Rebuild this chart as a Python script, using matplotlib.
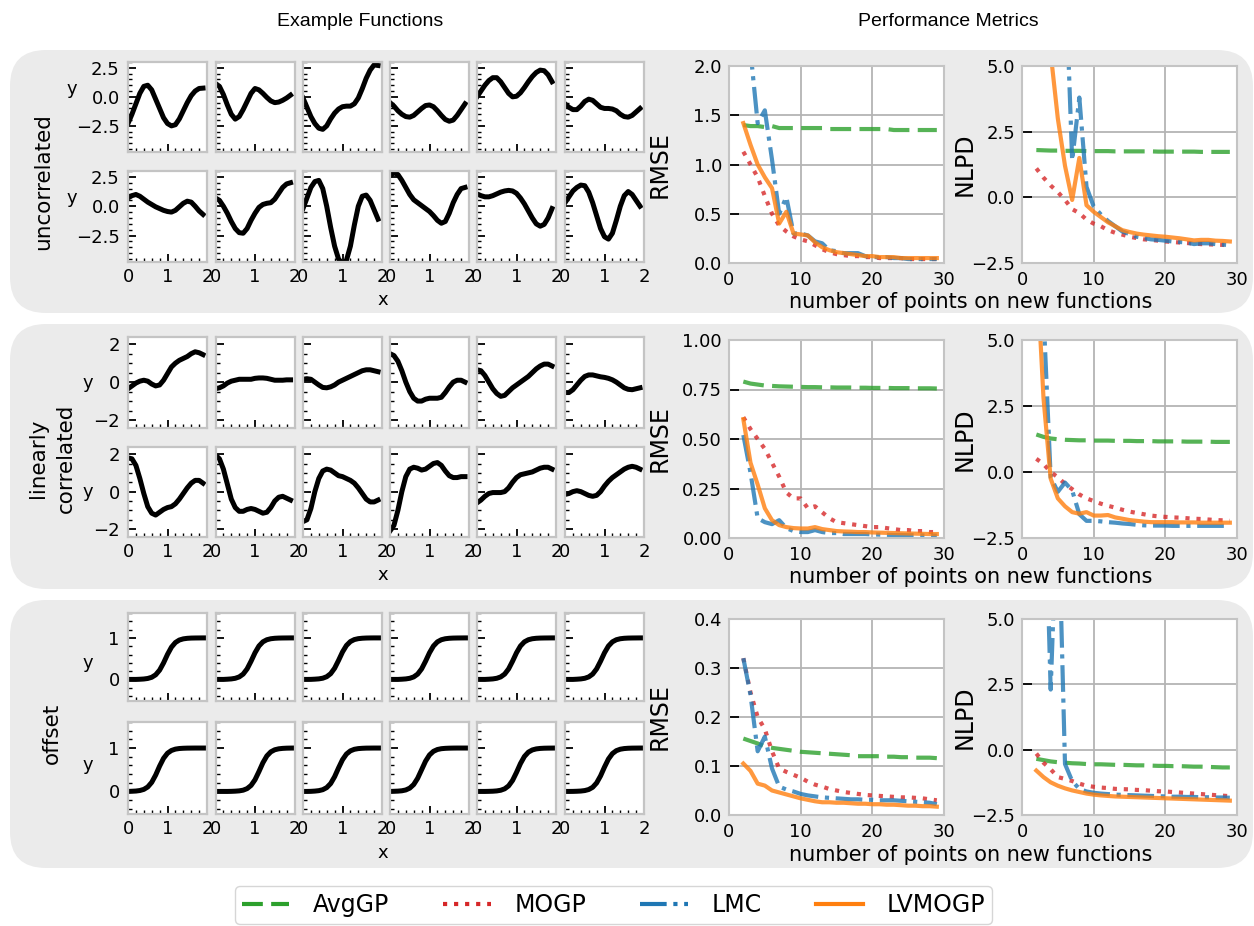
import numpy as np
import matplotlib.pyplot as plt
import matplotlib.ticker as mticker
from matplotlib.patches import FancyBboxPatch
from matplotlib.lines import Line2D

plt.rcParams['font.family'] = ['DejaVu Sans']

W, H = 1254, 926   # output size in pixels (dpi 100)

# ---------------- example functions ----------------
x_func = np.arange(20) / 10.0      # 0.0 .. 1.9
x_sig = np.arange(21) / 10.0       # 0.0 .. 2.0

uncorr_top = [
    [-2.3, -1.5, -0.6, 0.3, 0.9, 1.0, 0.6, -0.2, -1.0, -1.8, -2.3, -2.5, -2.4, -1.9, -1.2, -0.5, 0.1, 0.5, 0.72, 0.75],
    [1.15, 0.9, 0.2, -0.7, -1.5, -1.92, -1.7, -1.1, -0.4, 0.3, 0.72, 0.6, 0.3, -0.05, -0.35, -0.5, -0.45, -0.3, -0.1, 0.15],
    [-0.1, -0.9, -1.7, -2.3, -2.7, -2.8, -2.5, -1.9, -1.4, -1.05, -0.85, -0.8, -0.8, -0.6, -0.1, 0.7, 1.6, 2.3, 2.75, 2.7],
    [-0.5, -0.8, -1.2, -1.5, -1.7, -1.75, -1.6, -1.3, -1.0, -0.75, -0.7, -0.85, -1.2, -1.6, -1.95, -2.1, -2.0, -1.6, -1.1, -0.6],
    [0.0, 0.5, 1.0, 1.4, 1.65, 1.65, 1.3, 0.8, 0.3, 0.0, 0.05, 0.35, 0.8, 1.3, 1.75, 2.1, 2.3, 2.25, 1.9, 1.3],
    [-0.6, -0.9, -1.1, -1.1, -0.8, -0.4, -0.2, -0.3, -0.6, -0.9, -1.0, -1.0, -1.05, -1.2, -1.5, -1.7, -1.75, -1.6, -1.3, -1.0],
]
uncorr_bot = [
    [0.7, 0.9, 1.0, 0.85, 0.6, 0.35, 0.15, -0.05, -0.2, -0.35, -0.45, -0.5, -0.35, -0.05, 0.25, 0.43, 0.35, 0.0, -0.4, -0.7],
    [0.7, 0.5, 0.0, -0.6, -1.3, -1.9, -2.25, -2.3, -1.9, -1.2, -0.6, -0.1, 0.15, 0.25, 0.3, 0.6, 1.1, 1.6, 1.9, 2.0],
    [-0.2, 0.7, 1.6, 2.1, 2.2, 1.5, 0.0, -1.8, -3.4, -4.5, -4.9, -4.6, -3.4, -1.6, 0.0, 0.85, 0.95, 0.5, -0.3, -1.1],
    [2.6, 2.85, 2.7, 2.2, 1.6, 1.0, 0.55, 0.3, 0.05, -0.2, -0.45, -0.8, -1.2, -1.45, -1.3, -0.6, 0.3, 1.0, 1.5, 1.6],
    [1.05, 0.9, 0.8, 0.8, 0.9, 1.05, 1.2, 1.3, 1.35, 1.3, 1.1, 0.7, 0.2, -0.4, -1.0, -1.5, -1.7, -1.55, -1.0, -0.2],
    [0.3, 0.8, 1.3, 1.6, 1.8, 1.75, 1.2, 0.3, -0.8, -1.9, -2.6, -2.8, -2.3, -1.2, 0.0, 0.9, 1.25, 1.0, 0.5, 0.0],
]
lin_top = [
    [-0.35, -0.2, -0.05, 0.05, 0.1, 0.05, -0.1, -0.2, -0.15, 0.1, 0.45, 0.8, 1.0, 1.15, 1.25, 1.35, 1.5, 1.6, 1.55, 1.45],
    [-0.35, -0.3, -0.2, -0.05, 0.05, 0.1, 0.15, 0.15, 0.15, 0.15, 0.2, 0.22, 0.22, 0.2, 0.15, 0.1, 0.1, 0.1, 0.12, 0.12],
    [0.15, 0.18, 0.15, 0.0, -0.15, -0.28, -0.3, -0.25, -0.15, 0.0, 0.1, 0.2, 0.3, 0.4, 0.5, 0.6, 0.65, 0.65, 0.6, 0.55],
    [1.5, 1.4, 1.1, 0.6, 0.0, -0.5, -0.85, -1.0, -1.0, -0.9, -0.85, -0.85, -0.85, -0.8, -0.55, -0.25, 0.0, 0.1, 0.1, 0.0],
    [0.65, 0.6, 0.35, 0.0, -0.35, -0.6, -0.75, -0.7, -0.5, -0.3, -0.15, 0.0, 0.15, 0.3, 0.5, 0.7, 0.85, 0.95, 0.95, 0.85],
    [-0.55, -0.55, -0.4, -0.15, 0.1, 0.3, 0.38, 0.38, 0.33, 0.28, 0.25, 0.2, 0.12, 0.0, -0.15, -0.3, -0.38, -0.4, -0.35, -0.3],
]
lin_bot = [
    [1.8, 1.75, 1.4, 0.7, -0.1, -0.8, -1.15, -1.25, -1.1, -0.95, -0.85, -0.8, -0.65, -0.4, -0.1, 0.2, 0.45, 0.6, 0.6, 0.45],
    [1.95, 1.75, 1.2, 0.4, -0.4, -0.85, -1.05, -1.05, -0.95, -0.9, -0.95, -1.05, -1.15, -1.1, -0.85, -0.5, -0.3, -0.25, -0.35, -0.45],
    [-1.6, -1.5, -0.9, 0.0, 0.7, 1.1, 1.2, 1.15, 1.0, 0.85, 0.8, 0.7, 0.6, 0.45, 0.2, -0.1, -0.4, -0.55, -0.55, -0.45],
    [-2.1, -1.8, -1.0, 0.0, 0.8, 1.2, 1.3, 1.25, 1.15, 1.2, 1.35, 1.5, 1.55, 1.4, 1.1, 0.85, 0.75, 0.75, 0.8, 0.8],
    [-0.6, -0.45, -0.25, -0.1, -0.05, -0.05, -0.05, 0.0, 0.2, 0.5, 0.75, 0.9, 0.95, 1.0, 1.05, 1.15, 1.25, 1.3, 1.3, 1.2],
    [-0.15, -0.1, 0.0, 0.05, 0.0, -0.1, -0.2, -0.25, -0.2, 0.0, 0.3, 0.55, 0.75, 0.9, 1.05, 1.2, 1.3, 1.35, 1.3, 1.2],
]
offset_top = [
    [0, 0, 0, 0.004, 0.01, 0.023, 0.051, 0.111, 0.223, 0.397, 0.603, 0.777, 0.889, 0.949, 0.977, 0.99, 0.996, 0.998, 0.999, 1, 1],
    [0, 0, 0, 0.005, 0.012, 0.027, 0.06, 0.128, 0.253, 0.438, 0.642, 0.805, 0.905, 0.956, 0.98, 0.991, 0.996, 0.998, 0.999, 1, 1],
    [0, 0, 0.001, 0.006, 0.013, 0.029, 0.065, 0.138, 0.269, 0.458, 0.661, 0.818, 0.912, 0.96, 0.982, 0.992, 0.997, 0.999, 1, 1, 1],
    [0, 0, 0, 0.005, 0.012, 0.027, 0.06, 0.128, 0.253, 0.438, 0.642, 0.805, 0.905, 0.956, 0.98, 0.991, 0.996, 0.998, 0.999, 1, 1],
    [0, 0, 0, 0.005, 0.012, 0.027, 0.06, 0.128, 0.253, 0.438, 0.642, 0.805, 0.905, 0.956, 0.98, 0.991, 0.996, 0.998, 0.999, 1, 1],
    [0, 0, 0, 0.005, 0.012, 0.027, 0.06, 0.128, 0.253, 0.438, 0.642, 0.805, 0.905, 0.956, 0.98, 0.991, 0.996, 0.998, 0.999, 1, 1],
]
offset_bot = [
    [0, 0.004, 0.009, 0.021, 0.047, 0.103, 0.209, 0.377, 0.583, 0.763, 0.881, 0.944, 0.975, 0.989, 0.995, 0.998, 0.999, 1, 1, 1, 1],
    [0, 0, 0, 0, 0.002, 0.006, 0.013, 0.029, 0.065, 0.138, 0.269, 0.458, 0.661, 0.818, 0.912, 0.96, 0.982, 0.992, 0.997, 0.999, 1],
    [0, 0, 0.002, 0.008, 0.018, 0.04, 0.088, 0.182, 0.339, 0.542, 0.731, 0.862, 0.935, 0.971, 0.987, 0.994, 0.998, 0.999, 1, 1, 1],
    [0, 0.003, 0.007, 0.015, 0.034, 0.076, 0.159, 0.303, 0.5, 0.697, 0.841, 0.924, 0.966, 0.985, 0.993, 0.997, 0.999, 1, 1, 1, 1],
    [0, 0, 0, 0.002, 0.005, 0.012, 0.027, 0.06, 0.128, 0.253, 0.438, 0.642, 0.805, 0.905, 0.956, 0.98, 0.991, 0.996, 0.998, 0.999, 1],
    [0, 0, 0.001, 0.004, 0.009, 0.02, 0.044, 0.095, 0.195, 0.358, 0.562, 0.747, 0.872, 0.94, 0.973, 0.988, 0.995, 0.998, 0.999, 1, 1],
]

# ---------------- performance metrics ----------------
n_points = list(range(2, 30))
methods = ["AvgGP", "MOGP", "LMC", "LVMOGP"]

# uncorrelated
avg_u_rmse = [1.40, 1.39, 1.39, 1.38, 1.39, 1.37, 1.37, 1.37, 1.37, 1.37, 1.37, 1.37, 1.36, 1.36,
              1.36, 1.36, 1.36, 1.36, 1.36, 1.36, 1.36, 1.35, 1.35, 1.35, 1.35, 1.35, 1.35, 1.35]
mogp_u_rmse = [1.13, 1.00, 0.87, 0.68, 0.50, 0.38, 0.32, 0.27, 0.24, 0.22, 0.18, 0.14, 0.11, 0.09,
               0.08, 0.07, 0.07, 0.06, 0.06, 0.05, 0.05, 0.05, 0.05, 0.04, 0.04, 0.04, 0.04, 0.04]
lmc_u_rmse = [3.00, 2.15, 1.42, 1.55, 1.05, 0.50, 0.67, 0.30, 0.30, 0.28, 0.22, 0.20, 0.13, 0.12,
              0.10, 0.10, 0.10, 0.07, 0.06, 0.06, 0.06, 0.05, 0.05, 0.04, 0.04, 0.04, 0.04, 0.04]
lvm_u_rmse = [1.42, 1.20, 1.00, 0.87, 0.76, 0.40, 0.52, 0.30, 0.29, 0.28, 0.21, 0.16, 0.13, 0.11,
              0.10, 0.09, 0.08, 0.07, 0.07, 0.06, 0.06, 0.06, 0.05, 0.05, 0.05, 0.05, 0.05, 0.05]
avg_u_nlpd = [1.80, 1.79, 1.78, 1.78, 1.77, 1.77, 1.77, 1.76, 1.76, 1.76, 1.76, 1.75, 1.75, 1.75,
              1.75, 1.75, 1.75, 1.74, 1.74, 1.74, 1.74, 1.74, 1.74, 1.73, 1.73, 1.73, 1.73, 1.73]
mogp_u_nlpd = [1.10, 0.75, 0.45, 0.20, -0.10, -0.45, -0.60, -0.85, -1.00, -1.10, -1.25, -1.35, -1.42, -1.50,
               -1.55, -1.60, -1.62, -1.65, -1.68, -1.70, -1.72, -1.74, -1.76, -1.78, -1.79, -1.80, -1.81, -1.83]
lmc_u_nlpd = [30.0, 25.0, 20.0, 15.0, 9.0, 1.4, 3.8, 0.4, -0.35, -0.65, -0.90, -1.10, -1.30, -1.40,
              -1.50, -1.55, -1.60, -1.62, -1.65, -1.68, -1.70, -1.72, -1.78, -1.75, -1.75, -1.78, -1.80, -1.82]
lvm_u_nlpd = [12.0, 8.0, 5.5, 3.0, 1.2, -0.1, 1.5, -0.3, -0.55, -0.75, -0.95, -1.10, -1.25, -1.32,
              -1.38, -1.42, -1.45, -1.48, -1.50, -1.53, -1.56, -1.60, -1.64, -1.62, -1.62, -1.65, -1.66, -1.68]

# linearly correlated
avg_l_rmse = [0.790, 0.780, 0.775, 0.770, 0.768, 0.766, 0.765, 0.764, 0.763, 0.762, 0.762, 0.761, 0.761, 0.760,
              0.760, 0.760, 0.759, 0.759, 0.758, 0.758, 0.758, 0.757, 0.757, 0.757, 0.756, 0.756, 0.756, 0.755]
mogp_l_rmse = [0.61, 0.55, 0.50, 0.45, 0.38, 0.31, 0.23, 0.20, 0.20, 0.15, 0.16, 0.13, 0.10, 0.08,
               0.075, 0.07, 0.065, 0.06, 0.055, 0.055, 0.05, 0.045, 0.04, 0.04, 0.035, 0.035, 0.03, 0.03]
lmc_l_rmse = [0.52, 0.33, 0.10, 0.08, 0.07, 0.09, 0.05, 0.035, 0.03, 0.03, 0.04, 0.03, 0.025, 0.025,
              0.02, 0.02, 0.02, 0.02, 0.018, 0.017, 0.016, 0.015, 0.015, 0.014, 0.014, 0.013, 0.013, 0.012]
lvm_l_rmse = [0.60, 0.38, 0.27, 0.15, 0.09, 0.065, 0.055, 0.05, 0.048, 0.048, 0.055, 0.045, 0.04, 0.035,
              0.033, 0.032, 0.03, 0.03, 0.028, 0.027, 0.026, 0.025, 0.024, 0.023, 0.022, 0.021, 0.02, 0.02]
avg_l_nlpd = [1.42, 1.33, 1.27, 1.24, 1.22, 1.21, 1.20, 1.20, 1.19, 1.19, 1.19, 1.18, 1.18, 1.18,
              1.17, 1.17, 1.17, 1.16, 1.16, 1.16, 1.16, 1.15, 1.15, 1.15, 1.15, 1.14, 1.14, 1.14]
mogp_l_nlpd = [0.50, 0.30, 0.00, -0.20, -0.45, -0.65, -0.85, -1.00, -1.10, -1.20, -1.28, -1.35, -1.43, -1.50,
               -1.55, -1.60, -1.65, -1.68, -1.70, -1.72, -1.73, -1.75, -1.77, -1.78, -1.80, -1.82, -1.83, -1.85]
lmc_l_nlpd = [25.0, 6.0, -0.2, -0.75, -0.4, -0.7, -1.6, -1.85, -1.85, -1.87, -1.90, -1.92, -1.95, -1.97,
              -2.00, -2.02, -2.03, -2.03, -2.03, -2.04, -2.04, -2.04, -2.04, -2.04, -2.04, -2.04, -2.04, -2.04]
lvm_l_nlpd = [8.0, 2.8, -0.25, -1.0, -1.3, -1.52, -1.58, -1.52, -1.65, -1.65, -1.63, -1.72, -1.77, -1.82,
              -1.85, -1.88, -1.90, -1.90, -1.90, -1.90, -1.91, -1.91, -1.91, -1.92, -1.92, -1.92, -1.92, -1.92]

# offset
avg_o_rmse = [0.156, 0.151, 0.146, 0.140, 0.137, 0.135, 0.133, 0.131, 0.129, 0.128, 0.127, 0.126, 0.125, 0.124,
              0.123, 0.122, 0.120, 0.120, 0.120, 0.120, 0.119, 0.119, 0.118, 0.118, 0.117, 0.117, 0.117, 0.116]
mogp_o_rmse = [0.32, 0.25, 0.20, 0.175, 0.13, 0.095, 0.088, 0.082, 0.076, 0.068, 0.062, 0.058, 0.053, 0.050,
               0.047, 0.045, 0.043, 0.041, 0.040, 0.039, 0.038, 0.037, 0.036, 0.036, 0.035, 0.034, 0.032, 0.030]
lmc_o_rmse = [0.32, 0.245, 0.13, 0.16, 0.095, 0.058, 0.052, 0.048, 0.043, 0.040, 0.038, 0.036, 0.035, 0.034,
              0.033, 0.032, 0.032, 0.031, 0.031, 0.030, 0.030, 0.030, 0.029, 0.028, 0.027, 0.026, 0.025, 0.022]
lvm_o_rmse = [0.105, 0.090, 0.064, 0.060, 0.050, 0.046, 0.042, 0.038, 0.034, 0.031, 0.028, 0.026, 0.026, 0.025,
              0.025, 0.024, 0.023, 0.023, 0.022, 0.022, 0.021, 0.021, 0.020, 0.019, 0.019, 0.018, 0.018, 0.017]
avg_o_nlpd = [-0.35, -0.40, -0.45, -0.48, -0.50, -0.52, -0.53, -0.55, -0.56, -0.56, -0.57, -0.58, -0.58, -0.59,
              -0.60, -0.60, -0.61, -0.62, -0.62, -0.63, -0.63, -0.64, -0.65, -0.65, -0.66, -0.67, -0.68, -0.68]
mogp_o_nlpd = [-0.15, -0.50, -0.75, -1.05, -1.12, -1.20, -1.30, -1.38, -1.42, -1.45, -1.47, -1.50, -1.51, -1.52,
               -1.54, -1.55, -1.57, -1.59, -1.60, -1.62, -1.64, -1.66, -1.68, -1.70, -1.72, -1.74, -1.76, -1.78]
lmc_o_nlpd = [25.0, 12.0, 2.3, 10.0, -0.55, -1.20, -1.50, -1.60, -1.65, -1.68, -1.70, -1.72, -1.73, -1.74,
              -1.75, -1.76, -1.77, -1.78, -1.79, -1.80, -1.80, -1.81, -1.81, -1.82, -1.82, -1.83, -1.83, -1.84]
lvm_o_nlpd = [-0.80, -1.05, -1.25, -1.38, -1.48, -1.56, -1.62, -1.68, -1.72, -1.75, -1.77, -1.79, -1.80, -1.81,
              -1.82, -1.83, -1.84, -1.85, -1.86, -1.87, -1.88, -1.89, -1.90, -1.91, -1.92, -1.93, -1.94, -1.95]

colors = ["#2ca02c", "#d62728", "#1f77b4", "#ff7f0e"]
styles = [(0, (5, 2)), ":", "-.", "-"]

fig = plt.figure(figsize=(W / 100, H / 100), dpi=100)


def add_ax(x0, x1, y0, y1):
    # axes from pixel box (top-left origin)
    return fig.add_axes([x0 / W, 1 - y1 / H, (x1 - x0) / W, (y1 - y0) / H])


# grey rounded panels behind each group
for y0, y1 in [(50, 313), (324, 589), (600, 868)]:
    panel = FancyBboxPatch((10 / 100, (H - y1) / 100), (1253 - 10) / 100, (y1 - y0) / 100,
                           boxstyle="round,pad=0,rounding_size=0.36",
                           transform=fig.dpi_scale_trans, fc="#ebebeb", ec="none", zorder=-1)
    fig.add_artist(panel)

fig.text(360 / W, 1 - 22 / H, "Example Functions", fontsize=14, family="Liberation Sans",
         ha="center", va="center")
fig.text(948 / W, 1 - 22 / H, "Performance Metrics", fontsize=14, family="Liberation Sans",
         ha="center", va="center")

# ---------------- example function grids ----------------
col_x = [128, 215.5, 303, 390, 477, 565]
groups = [
    dict(top=uncorr_top, bot=uncorr_bot, x=x_func, rows=[(62, 152), (171, 262)],
         ylim=(-4.75, 3.0), yticks=[-2.5, 0, 2.5], yminor=0.5,
         ylab=[(72, 89), (72, 198)], xlab=300, name="uncorrelated", name_xy=(43, 182)),
    dict(top=lin_top, bot=lin_bot, x=x_func, rows=[(337, 428), (447, 537)],
         ylim=(-2.42, 2.38), yticks=[-2, 0, 2], yminor=0.5,
         ylab=[(88, 383), (88, 492)], xlab=575, name="linearly\ncorrelated", name_xy=(52, 458)),
    dict(top=offset_top, bot=offset_bot, x=x_sig, rows=[(613, 701), (722, 814)],
         ylim=(-0.52, 1.6), yticks=[0, 1], yminor=0.2,
         ylab=[(88, 663), (88, 765)], xlab=853, name="offset", name_xy=(52, 733)),
]

for g in groups:
    for r, curves in enumerate([g["top"], g["bot"]]):
        y0, y1 = g["rows"][r]
        for c, yv in enumerate(curves):
            ax = add_ax(col_x[c], col_x[c] + 79, y0, y1)
            ax.plot(g["x"], yv, color="black", lw=3.6)
            ax.set_xlim(0, 2)
            ax.set_ylim(g["ylim"])
            ax.set_xticks([0, 1, 2])
            ax.xaxis.set_minor_locator(mticker.MultipleLocator(0.2))
            ax.set_yticks(g["yticks"])
            ax.yaxis.set_minor_locator(mticker.MultipleLocator(g["yminor"]))
            ax.tick_params(which="both", direction="in", color="black", labelsize=13)
            ax.tick_params(which="major", length=6, width=1.3)
            ax.tick_params(which="minor", length=3, width=1.0)
            ax.tick_params(axis="y", pad=6)
            ax.tick_params(axis="x", pad=4)
            if c > 0:
                ax.tick_params(axis="y", labelleft=False)
            if r == 0:
                ax.tick_params(axis="x", labelbottom=False)
            for s in ax.spines.values():
                s.set_color("#c4c4c4")
                s.set_linewidth(1.6)
        fig.text(g["ylab"][r][0] / W, 1 - g["ylab"][r][1] / H, "y", fontsize=13,
                 ha="center", va="center")
    fig.text(383 / W, 1 - g["xlab"] / H, "x", fontsize=13, ha="center", va="center")
    fig.text(g["name_xy"][0] / W, 1 - g["name_xy"][1] / H, g["name"], fontsize=15.5,
             rotation=90, ha="center", va="center", multialignment="center", linespacing=1.45)

# ---------------- performance metric panels ----------------
metric_rows = [
    dict(y=(66, 263), rmse=[avg_u_rmse, mogp_u_rmse, lmc_u_rmse, lvm_u_rmse],
         nlpd=[avg_u_nlpd, mogp_u_nlpd, lmc_u_nlpd, lvm_u_nlpd],
         rlim=(0, 2.0), rticks=[0, 0.5, 1.0, 1.5, 2.0], xlab=302),
    dict(y=(340, 538), rmse=[avg_l_rmse, mogp_l_rmse, lmc_l_rmse, lvm_l_rmse],
         nlpd=[avg_l_nlpd, mogp_l_nlpd, lmc_l_nlpd, lvm_l_nlpd],
         rlim=(0, 1.0), rticks=[0, 0.25, 0.5, 0.75, 1.0], xlab=577),
    dict(y=(619, 815), rmse=[avg_o_rmse, mogp_o_rmse, lmc_o_rmse, lvm_o_rmse],
         nlpd=[avg_o_nlpd, mogp_o_nlpd, lmc_o_nlpd, lvm_o_nlpd],
         rlim=(0, 0.4), rticks=[0, 0.1, 0.2, 0.3, 0.4], xlab=855),
]

for m in metric_rows:
    for (x0, x1), key, lim, ticks, label, lx in [
            ((729, 944), "rmse", m["rlim"], m["rticks"], "RMSE", -0.265),
            ((1022, 1237), "nlpd", (-2.5, 5.0), [-2.5, 0, 2.5, 5.0], "NLPD", -0.21)]:
        ax = add_ax(x0, x1, m["y"][0], m["y"][1])
        for vals, col, ls in zip(m[key], colors, styles):
            ax.plot(n_points, vals, color=col, ls=ls, lw=3, alpha=0.8)
        ax.set_xlim(0, 30)
        ax.set_ylim(lim)
        ax.set_xticks([0, 10, 20, 30])
        ax.set_yticks(ticks)
        ax.set_axisbelow(True)
        ax.grid(True, color="#b4b4b4", lw=1.3)
        for s in ax.spines.values():
            s.set_color("#c4c4c4")
            s.set_linewidth(1.5)
        ax.tick_params(axis="y", direction="in", length=7, width=1.3, color="black",
                       labelsize=13, pad=5)
        ax.tick_params(axis="x", length=0, labelsize=13, pad=6)
        ax.set_ylabel(label, fontsize=17)
        ax.yaxis.set_label_coords(lx, 0.5)
    fig.text(971 / W, 1 - m["xlab"] / H, "number of points on new functions", fontsize=15,
             ha="center", va="center")

# legend along the bottom
handles = [Line2D([], [], color=c, ls=s, lw=3) for c, s in zip(colors, styles)]
fig.legend(handles, methods, loc="upper center", bbox_to_anchor=(613.5 / W, 1 - 886 / H),
           ncol=4, fontsize=17, handlelength=2.0, handletextpad=1.0, columnspacing=2.3,
           borderpad=0.3, borderaxespad=0.0, frameon=True)

fig.savefig("out.png", dpi=100)
